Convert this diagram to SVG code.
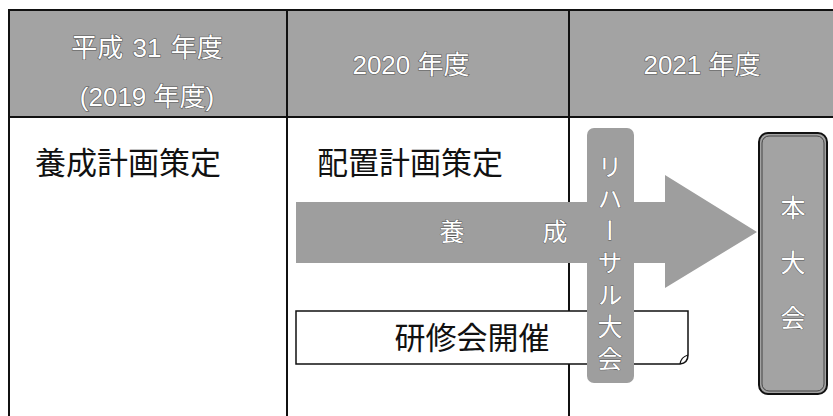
<svg xmlns="http://www.w3.org/2000/svg" width="833" height="416" viewBox="0 0 833 416">
<style>
.hdr{fill:#a3a3a3}
.line{stroke:#111;stroke-width:2;fill:none}
.ht{font-family:"Liberation Sans","Noto Sans CJK JP",sans-serif;font-size:26px;fill:#fff;stroke:#555;stroke-width:1.2;paint-order:stroke;text-anchor:middle}
.bt{font-family:"Noto Sans CJK JP",sans-serif;font-size:31px;fill:#111;text-anchor:middle}
.wt{font-family:"Noto Sans CJK JP",sans-serif;font-size:25px;fill:#fff;stroke:#555;stroke-width:0.8;paint-order:stroke;text-anchor:middle}
.vt{writing-mode:vertical-rl;glyph-orientation-vertical:0}
.gray{fill:#9e9e9e}
</style>
<g id="table">
<rect class="hdr" x="9" y="11" width="824" height="106"/>
<line class="line" x1="8" y1="10" x2="833" y2="10"/>
<line class="line" x1="8" y1="117" x2="833" y2="117"/>
<line class="line" x1="9" y1="10" x2="9" y2="416"/>
<line class="line" x1="287" y1="10" x2="287" y2="416"/>
<line class="line" x1="569" y1="10" x2="569" y2="416"/>
<text class="ht" x="147" y="57">平成 <tspan dx="2">31</tspan> <tspan dx="2">年度</tspan></text>
<text class="ht" x="147" y="106">(2019 年度)</text>
<text class="ht" x="411" y="74">2020 年度</text>
<text class="ht" x="702" y="74">2021 年度</text>
</g>
<g id="plan1"><text class="bt" x="128" y="174">養成計画策定</text></g>
<g id="plan2"><text class="bt" x="410" y="174">配置計画策定</text></g>
<g id="arrow">
<path class="gray" d="M296,202 H665 V175 L757,232 L665,288 V263 H296 Z"/>
<text class="wt" x="452" y="241">養</text>
<text class="wt" x="555" y="241">成</text>
</g>
<g id="training">
<path d="M296,311 H688 V355 Q688,363 680,364 H296 Z" fill="#fff" stroke="#111" stroke-width="1.5"/>
<path d="M680,364 Q681,357 688,355" fill="none" stroke="#111" stroke-width="1.2"/>
<text class="bt" x="472" y="349">研修会開催</text>
</g>
<g id="rehearsal">
<rect class="gray" x="587" y="128" width="47" height="255" rx="7"/>
<text class="wt vt" x="610" y="154" style="text-anchor:start;letter-spacing:7px">リハーサル大会</text>
</g>
<g id="main">
<rect x="759" y="133" width="68" height="261" rx="9" fill="#a3a3a3" stroke="#111" stroke-width="2"/>
<rect x="762" y="136" width="62" height="255" rx="7" fill="none" stroke="#444" stroke-width="1"/>
<text class="wt vt" x="793" y="195" style="text-anchor:start;letter-spacing:30px">本大会</text>
</g>
<g id="connectors"/>
</svg>
